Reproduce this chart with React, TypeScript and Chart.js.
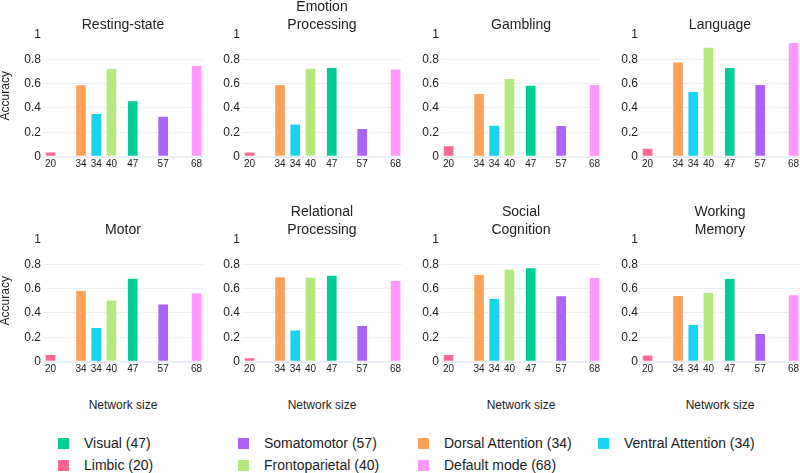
import React, { useEffect, useRef } from 'react';
import { Chart, registerables } from 'chart.js';

Chart.register(...registerables);

const FONT = '"Liberation Sans", Arial, sans-serif';
const TEXT = '#222222';
const GRID = '#EBF0F8';

// Networks in x order
const networkNames = [
  'Limbic (20)',
  'Dorsal Attention (34)',
  'Ventral Attention (34)',
  'Frontoparietal (40)',
  'Visual (47)',
  'Somatomotor (57)',
  'Default mode (68)',
];
const xValues = [20, 30, 35, 40, 47, 57, 68];
const tickLabels = ['20', '34', '34', '40', '47', '57', '68'];
const barColors = ['#FF6692', '#FFA15A', '#19D3F3', '#B6E880', '#00CC96', '#AB63FA', '#FF97FF'];

const taskTitles = [
  ['Resting-state'],
  ['Emotion', 'Processing'],
  ['Gambling'],
  ['Language'],
  ['Motor'],
  ['Relational', 'Processing'],
  ['Social', 'Cognition'],
  ['Working', 'Memory'],
];

const restingState = [0.03, 0.583, 0.347, 0.718, 0.451, 0.325, 0.742];
const emotionProcessing = [0.03, 0.586, 0.26, 0.72, 0.726, 0.224, 0.714];
const gambling = [0.081, 0.512, 0.251, 0.635, 0.58, 0.248, 0.586];
const language = [0.062, 0.77, 0.528, 0.893, 0.726, 0.586, 0.932];
const motor = [0.05, 0.578, 0.273, 0.5, 0.679, 0.466, 0.556];
const relationalProcessing = [0.025, 0.69, 0.252, 0.687, 0.704, 0.29, 0.659];
const socialCognition = [0.05, 0.709, 0.511, 0.753, 0.764, 0.534, 0.684];
const workingMemory = [0.047, 0.536, 0.298, 0.563, 0.676, 0.224, 0.542];

const taskValues = [
  restingState,
  emotionProcessing,
  gambling,
  language,
  motor,
  relationalProcessing,
  socialCognition,
  workingMemory,
];

const yTickLabels = ['0', '0.2', '0.4', '0.6', '0.8', '1'];
const xAxisTitle = 'Network size';
const yAxisTitle = 'Accuracy';

// legend order (indices into networkNames)
const legendOrder = [4, 5, 1, 2, 0, 3, 6];

function Panel({ index }: { index: number }) {
  const ref = useRef<HTMLCanvasElement | null>(null);
  const col = index % 4;
  const row = Math.floor(index / 4);

  useEffect(() => {
    if (!ref.current) return;
    const title = taskTitles[index];
    const values = taskValues[index];
    const chart = new Chart(ref.current, {
      type: 'bar',
      data: {
        datasets: [
          {
            data: xValues.map((x, i) => ({ x, y: values[i] })),
            backgroundColor: barColors,
            borderWidth: 0,
            barThickness: 9,
          } as any,
        ],
      },
      options: {
        responsive: false,
        animation: false,
        devicePixelRatio: 1,
        layout: { padding: 0 },
        plugins: {
          legend: { display: false },
          tooltip: { enabled: false },
          title: {
            display: true,
            fullSize: false,
            text: title,
            color: TEXT,
            font: { family: FONT, size: 14, weight: 'normal', lineHeight: 18 / 14 },
            padding: { top: title.length === 1 ? 18 : 0, bottom: 1 },
          },
        },
        scales: {
          x: {
            type: 'linear',
            min: 17.5,
            max: 70.1,
            offset: false,
            grid: { display: false, drawTicks: false },
            border: { display: false },
            afterBuildTicks: (s: any) => {
              s.ticks = xValues.map((v) => ({ value: v }));
            },
            afterFit: (s: any) => {
              s.height = 21.5;
              s.paddingLeft = 0;
              s.paddingRight = 0;
            },
            ticks: {
              autoSkip: false,
              maxRotation: 0,
              minRotation: 0,
              padding: 2,
              color: TEXT,
              font: { family: FONT, size: 10 },
              callback: (_v: any, i: number) => tickLabels[i],
            },
          },
          y: {
            min: 0,
            max: 1,
            grid: {
              drawTicks: false,
              color: (c: any) => (c.tick && c.tick.value === 1 ? 'rgba(0,0,0,0)' : GRID),
              lineWidth: (c: any) => (c.tick && c.tick.value === 0 ? 2 : 1),
            },
            border: { display: false },
            afterFit: (s: any) => {
              s.width = 43;
              s.paddingTop = 0;
              s.paddingBottom = 0;
            },
            ticks: {
              stepSize: 0.2,
              padding: 2,
              color: TEXT,
              font: { family: FONT, size: 12 },
              callback: (_v: any, i: number) => yTickLabels[i],
            },
            title: {
              display: col === 0,
              text: yAxisTitle,
              color: TEXT,
              padding: 0,
              font: { family: FONT, size: 12, lineHeight: 1 },
            },
          },
        },
      } as any,
    });
    return () => chart.destroy();
  }, [index, col]);

  return (
    <canvas
      ref={ref}
      width={203}
      height={180}
      style={{
        position: 'absolute',
        left: col * 199,
        top: row === 0 ? -2 : 203,
        width: 203,
        height: 180,
      }}
    />
  );
}

export default function App() {
  const legendCols = [58, 238, 418, 598];
  const legendRows = [443, 465];
  return (
    <div
      style={{
        position: 'absolute',
        left: 0,
        top: 0,
        width: 800,
        height: 473,
        overflow: 'hidden',
        background: '#ffffff',
        fontFamily: FONT,
        color: TEXT,
      }}
    >
      {taskTitles.map((_t, i) => (
        <Panel key={i} index={i} />
      ))}
      {[0, 1, 2, 3].map((c) => (
        <div
          key={'xt' + c}
          style={{
            position: 'absolute',
            left: 123 + c * 199 - 60,
            width: 120,
            top: 405 - 7,
            height: 14,
            lineHeight: '14px',
            fontSize: 12,
            textAlign: 'center',
            whiteSpace: 'nowrap',
          }}
        >
          {xAxisTitle}
        </div>
      ))}
      {legendOrder.map((ni, k) => {
        const c = k % 4;
        const r = Math.floor(k / 4);
        const cy = legendRows[r];
        return (
          <React.Fragment key={'lg' + k}>
            <div
              style={{
                position: 'absolute',
                left: legendCols[c],
                top: cy - 5.5,
                width: 11,
                height: 11,
                background: barColors[ni],
              }}
            />
            <div
              style={{
                position: 'absolute',
                left: legendCols[c] + 26,
                top: cy - 9,
                height: 18,
                lineHeight: '18px',
                fontSize: 14,
                whiteSpace: 'nowrap',
              }}
            >
              {networkNames[ni]}
            </div>
          </React.Fragment>
        );
      })}
    </div>
  );
}
